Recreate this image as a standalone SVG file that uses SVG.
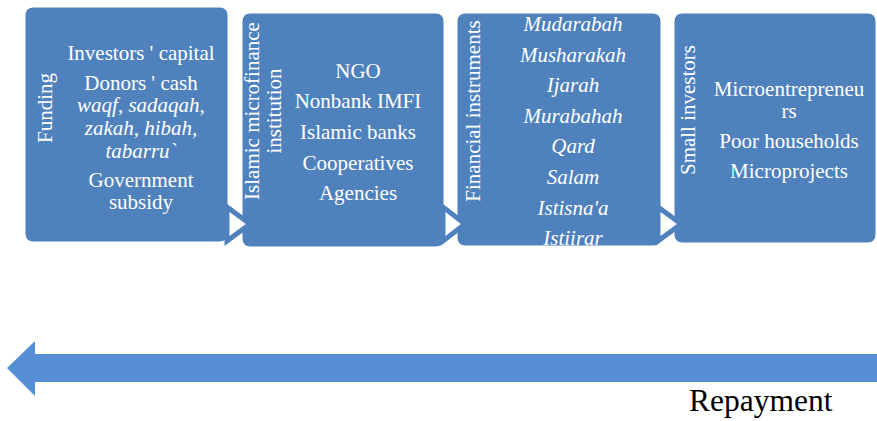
<svg xmlns="http://www.w3.org/2000/svg" width="877" height="421" viewBox="0 0 877 421">
<style>
.box{fill:#4F81BD;stroke:#FFFFFF;stroke-width:1}
.t{font-size:21px;fill:#FFFFFF;text-anchor:middle}
.i{font-style:italic}
.tri{fill:#FFFFFF;stroke:#4F81BD;stroke-width:5;stroke-linejoin:miter}
</style>
<rect width="877" height="421" fill="#FFFFFF"/>
<g font-family="Liberation Serif, serif">
<g id="node-funding">
<rect class="box" x="25" y="7" width="203" height="235" rx="8"/>
<text class="t" transform="translate(52,108) rotate(-90)">Funding</text>
<text class="t" x="141" y="60">Investors ' capital</text>
<text class="t" x="141" y="90">Donors ' cash</text>
<text class="t i" x="141" y="112">waqf, sadaqah,</text>
<text class="t i" x="141" y="135">zakah, hibah,</text>
<text class="t i" x="141" y="158">tabarru`</text>
<text class="t" x="141" y="187">Government</text>
<text class="t" x="141" y="209">subsidy</text>
</g>
<g id="node-imfi">
<rect class="box" x="242" y="13" width="202" height="234" rx="8"/>
<text class="t" transform="translate(259,111) rotate(-90)">Islamic microfinance</text>
<text class="t" transform="translate(281,111) rotate(-90)">institution</text>
<text class="t" x="358" y="78">NGO</text>
<text class="t" x="358" y="108">Nonbank IMFI</text>
<text class="t" x="358" y="139">Islamic banks</text>
<text class="t" x="358" y="170">Cooperatives</text>
<text class="t" x="358" y="200">Agencies</text>
</g>
<g id="node-instruments">
<rect class="box" x="457" y="13" width="204" height="233" rx="8"/>
<text class="t" transform="translate(480,111) rotate(-90)">Financial instruments</text>
<text class="t i" x="573" y="31">Mudarabah</text>
<text class="t i" x="573" y="62">Musharakah</text>
<text class="t i" x="573" y="92">Ijarah</text>
<text class="t i" x="573" y="123">Murabahah</text>
<text class="t i" x="573" y="153">Qard</text>
<text class="t i" x="573" y="184">Salam</text>
<text class="t i" x="573" y="215">Istisna'a</text>
<text class="t i" x="573" y="245">Istiirar</text>
</g>
<g id="node-small">
<rect class="box" x="674" y="13" width="202" height="230" rx="8"/>
<text class="t" transform="translate(695,110) rotate(-90)">Small investors</text>
<text class="t" x="789" y="96">Microentrepreneu</text>
<text class="t" x="789" y="118">rs</text>
<text class="t" x="789" y="148">Poor households</text>
<text class="t" x="789" y="178">Microprojects</text>
</g>
<g id="connectors">
<polygon class="tri" points="227,207 227,241 250,224"/>
<polygon class="tri" points="443,207 443,241 465,224"/>
<polygon class="tri" points="658,207 658,241 681,224"/>
<polygon points="7,368 35,341 35,354 877,354 877,382 35,382 35,396" fill="#558ED5"/>
</g>
<text x="689" y="411" font-size="31.5" fill="#000000">Repayment</text>
</g>
</svg>
